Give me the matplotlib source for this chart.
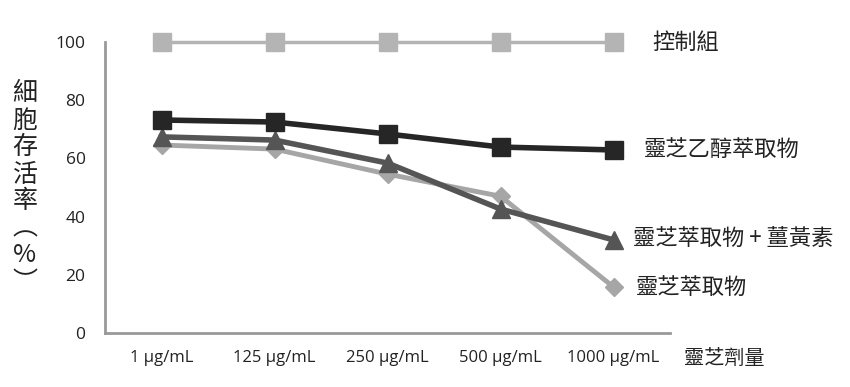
import matplotlib
matplotlib.use("Agg")
import matplotlib.pyplot as plt

plt.rcParams['font.family'] = ['Noto Sans CJK TC', 'DejaVu Sans']

categories = ["1 μg/mL", "125 μg/mL", "250 μg/mL", "500 μg/mL", "1000 μg/mL"]
control = [100, 100, 100, 100, 100]
ethanol_extract = [73.2, 72.5, 68.4, 63.9, 62.9]
extract_curcumin = [67.4, 66.3, 58.4, 42.6, 32.0]
extract = [64.6, 63.2, 54.6, 47.0, 15.8]
series_names = ["控制組", "靈芝乙醇萃取物", "靈芝萃取物 + 薑黃素", "靈芝萃取物"]
y_ticks = [0, 20, 40, 60, 80, 100]

fig = plt.figure(figsize=(8.5, 3.87), dpi=100)
ax = fig.add_axes([105/850, 1-333/387, (670-105)/850, (333-42)/387*1.0])
x = list(range(len(categories)))

ax.plot(x, control, color="#b4b4b4", lw=2.5, marker="s", ms=13, mec="#b4b4b4", mfc="#b4b4b4", zorder=2)
ax.plot(x, extract, color="#a6a6a6", lw=3.5, marker="D", ms=9.5, mec="#a6a6a6", mfc="#a6a6a6", zorder=3)
ax.plot(x, extract_curcumin, color="#555555", lw=4, marker="^", ms=13, mec="#555555", mfc="#555555", zorder=4)
ax.plot(x, ethanol_extract, color="#262626", lw=4, marker="s", ms=13, mec="#262626", mfc="#262626", zorder=5)

ax.set_xlim(-0.5, len(categories) - 0.5)
ax.set_ylim(0, 100)
ax.set_yticks(y_ticks)
ax.set_yticklabels([str(v) for v in y_ticks], family=['Open Sans', 'DejaVu Sans'], fontsize=12.5, color="#222222")
ax.set_xticks(x)
ax.set_xticklabels(categories, family=['Open Sans', 'DejaVu Sans'], fontsize=12, color="#222222")
ax.tick_params(axis='y', length=0, pad=14)
ax.tick_params(axis='x', length=0, pad=12)
for s in ["top", "right"]:
    ax.spines[s].set_visible(False)
for s in ["left", "bottom"]:
    ax.spines[s].set_color("#999999")
    ax.spines[s].set_linewidth(2)
for line in ax.lines:
    line.set_clip_on(False)

# series labels
lab_kw = dict(textcoords="offset points", va="center", ha="left", fontsize=16, color="#222222")
ax.annotate(series_names[0], xy=(x[-1], control[-1]), xytext=(28, 0), **lab_kw)
ax.annotate(series_names[1], xy=(x[-1], ethanol_extract[-1]), xytext=(22, 0), **lab_kw)
ax.annotate(series_names[2], xy=(x[-1], extract_curcumin[-1]), xytext=(14, 0), **lab_kw)
ax.annotate(series_names[3], xy=(x[-1], extract[-1]), xytext=(16, 0), **lab_kw)

fig.text(684/850, 1-358/387, "靈芝劑量", fontsize=14.5, va="center", ha="left", color="#222222")
fig.text(25/850, 1-188/387, "細\n胞\n存\n活\n率\n︵\n%\n︶", fontsize=18, va="center", ha="center",
         color="#222222", linespacing=1.05)

fig.savefig("out.png", dpi=100)
